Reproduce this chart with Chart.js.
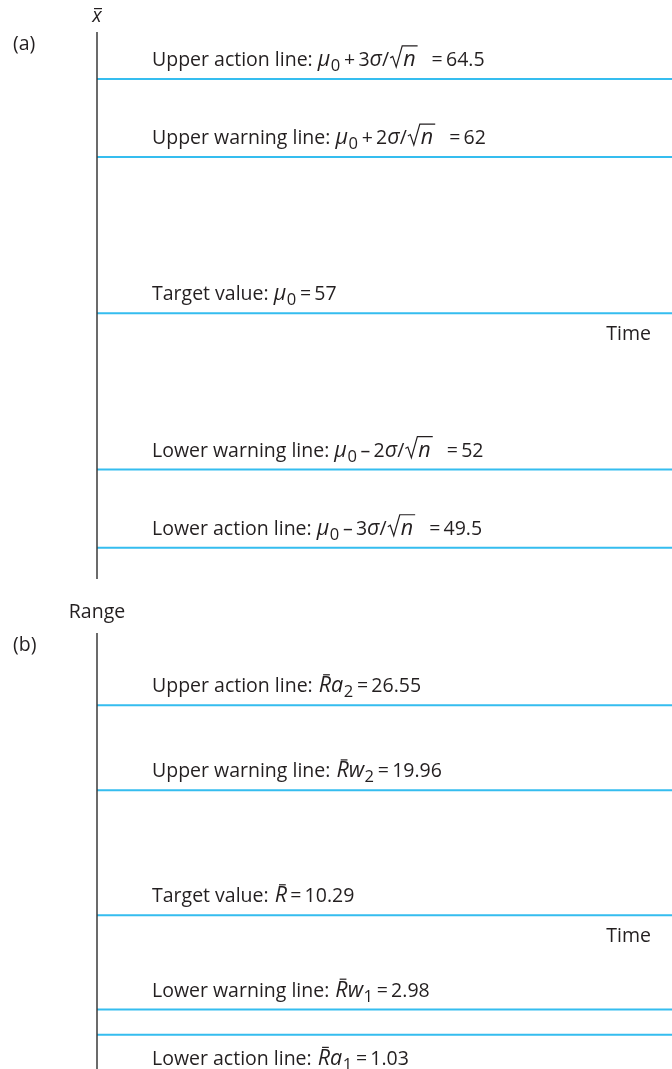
<!DOCTYPE html>
<html>
<head>
<meta charset="utf-8">
<script src="https://cdn.jsdelivr.net/npm/chart.js"></script>
<style>
    html, body { margin: 0; padding: 0; background: #fff; }
    #wrap { position: relative; width: 672px; height: 1069px; }
    canvas { position: absolute; left: 0; }
</style>
</head>
<body>
<div id="wrap">
    <canvas id="mean-chart" width="672" height="600" style="top:0"></canvas>
    <canvas id="range-chart" width="672" height="469" style="top:600px"></canvas>
</div>
<script>
/**
 * Control charts: (a) sample mean, (b) range
 */

const lineNames = ['Upper action line', 'Upper warning line', 'Target value', 'Lower warning line', 'Lower action line'];
const meanValues = [64.5, 62, 57, 52, 49.5];
const rangeValues = [26.55, 19.96, 10.29, 2.98, 1.03];

// formula pieces: [text, kind]  n = normal, i = italic, sub = subscript, sqrt = italic under a root, bar = italic with a bar
const meanFormulas = [
    [['μ', 'i'], ['0', 'sub'], ['\u2009+\u20093', 'n'], ['σ', 'i'], ['/', 'n'], ['n', 'sqrt'], ['\u2002', 'n']],
    [['μ', 'i'], ['0', 'sub'], ['\u2009+\u20092', 'n'], ['σ', 'i'], ['/', 'n'], ['n', 'sqrt'], ['\u2002', 'n']],
    [['μ', 'i'], ['0', 'sub']],
    [['μ', 'i'], ['0', 'sub'], ['\u2009\u2013\u20092', 'n'], ['σ', 'i'], ['/', 'n'], ['n', 'sqrt'], ['\u2002', 'n']],
    [['μ', 'i'], ['0', 'sub'], ['\u2009\u2013\u20093', 'n'], ['σ', 'i'], ['/', 'n'], ['n', 'sqrt'], ['\u2002', 'n']]
];
const rangeFormulas = [
    [['R', 'bar'], ['a', 'i'], ['2', 'sub']],
    [['R', 'bar'], ['w', 'i'], ['2', 'sub']],
    [['R', 'bar']],
    [['R', 'bar'], ['w', 'i'], ['1', 'sub']],
    [['R', 'bar'], ['a', 'i'], ['1', 'sub']]
];

const TEXT = '#231f20';
const BLUE = '#35bdef';
const FONT = '"Open Sans", "DejaVu Sans", sans-serif';
const SIZE = 19.5;
const MATH = 21.5;

function fontFor(kind, size) {
    return (kind === 'n' ? '' : 'italic ') + size + 'px ' + FONT;
}

function drawRich(ctx, pieces, x, y) {
    ctx.textBaseline = 'alphabetic';
    ctx.textAlign = 'left';
    ctx.fillStyle = TEXT;
    for (const [t, kind] of pieces) {
        if (kind === 'sub') {
            ctx.font = (SIZE * 0.85) + 'px ' + FONT;
            ctx.fillText(t, x + 0.5, y + 5);
            x += ctx.measureText(t).width + 1;
        } else if (kind === 'sqrt') {
            ctx.font = fontFor('i', MATH);
            const w = ctx.measureText(t).width;
            ctx.save();
            ctx.strokeStyle = TEXT;
            ctx.lineWidth = 1.2;
            ctx.beginPath();
            ctx.moveTo(x + 1, y - 8);
            ctx.lineTo(x + 3.5, y - 9.5);
            ctx.lineTo(x + 7, y + 1);
            ctx.lineTo(x + 13, y - 20);
            ctx.lineTo(x + 16 + w, y - 20);
            ctx.stroke();
            ctx.restore();
            ctx.fillText(t, x + 14, y);
            x += 17 + w;
        } else if (kind === 'bar') {
            ctx.font = fontFor('i', MATH);
            const w = ctx.measureText(t).width;
            ctx.fillText(t, x + 1, y);
            ctx.fillRect(x + 1 + w * 0.35, y - 18, w * 0.55, 1.2);
            x += w + 1;
        } else if (kind === 'i') {
            ctx.font = fontFor('i', MATH);
            ctx.fillText(t, x, y);
            x += ctx.measureText(t).width;
        } else {
            ctx.font = fontFor('n', SIZE);
            ctx.fillText(t, x, y);
            x += ctx.measureText(t).width;
        }
    }
    return x;
}

function controlTextPlugin(values, formulas, opts) {
    return {
        id: 'controlText',
        afterDatasetsDraw(chart) {
            const ctx = chart.ctx;
            const area = chart.chartArea;
            const yScale = chart.scales.y;
            ctx.save();

            // vertical axis
            ctx.strokeStyle = '#3a3a3a';
            ctx.lineWidth = 1.5;
            ctx.beginPath();
            ctx.moveTo(area.left, area.top);
            ctx.lineTo(area.left, area.bottom);
            ctx.stroke();

            // line labels
            values.forEach((v, k) => {
                const py = yScale.getPixelForValue(v);
                const below = opts.lastBelow && k === values.length - 1;
                const base = below ? py + 30 : py - 13;
                const pieces = [[lineNames[k] + ': ', 'n']].concat(formulas[k], [['\u2009=\u2009' + v, 'n']]);
                drawRich(ctx, pieces, area.left + 55, base);
            });

            // Time label under the target line
            const ty = yScale.getPixelForValue(values[2]);
            ctx.font = SIZE + 'px ' + FONT;
            ctx.fillStyle = TEXT;
            ctx.textAlign = 'right';
            ctx.fillText('Time', area.right - 21, ty + 27);

            // axis title and panel letter
            ctx.textAlign = 'center';
            if (opts.title === 'xbar') {
                ctx.font = fontFor('i', SIZE);
                ctx.fillText('x', area.left, area.top - 10);
                ctx.fillRect(area.left - 3, area.top - 24, 8, 1.2);
            } else {
                ctx.font = SIZE + 'px ' + FONT;
                ctx.fillText(opts.title, area.left, area.top - 15);
            }
            ctx.textAlign = 'left';
            ctx.font = SIZE + 'px ' + FONT;
            ctx.fillText(opts.panel, 13, area.top + 18);

            ctx.restore();
        }
    };
}

function makeControlChart(id, values, formulas, opts) {
    const datasets = values.map(v => ({
        data: [{ x: 0, y: v }, { x: 1, y: v }],
        borderColor: BLUE,
        borderWidth: 2,
        pointRadius: 0,
        fill: false
    }));

    return new Chart(document.getElementById(id), {
        type: 'line',
        data: { datasets: datasets },
        options: {
            responsive: false,
            animation: false,
            events: [],
            layout: { padding: opts.padding },
            plugins: {
                legend: { display: false },
                tooltip: { enabled: false }
            },
            scales: {
                x: { type: 'linear', min: 0, max: 1, display: false },
                y: { type: 'linear', min: opts.min, max: opts.max, display: false }
            }
        },
        plugins: [controlTextPlugin(values, formulas, opts)]
    });
}

makeControlChart('mean-chart', meanValues, meanFormulas, {
    min: 48.5, max: 66,
    padding: { top: 32, bottom: 21, left: 97, right: 0 },
    title: 'xbar', panel: '(a)', lastBelow: false
});

makeControlChart('range-chart', rangeValues, rangeFormulas, {
    min: -1.62, max: 32.14,
    padding: { top: 33, bottom: 0, left: 97, right: 0 },
    title: 'Range', panel: '(b)', lastBelow: true
});
</script>
</body>
</html>
